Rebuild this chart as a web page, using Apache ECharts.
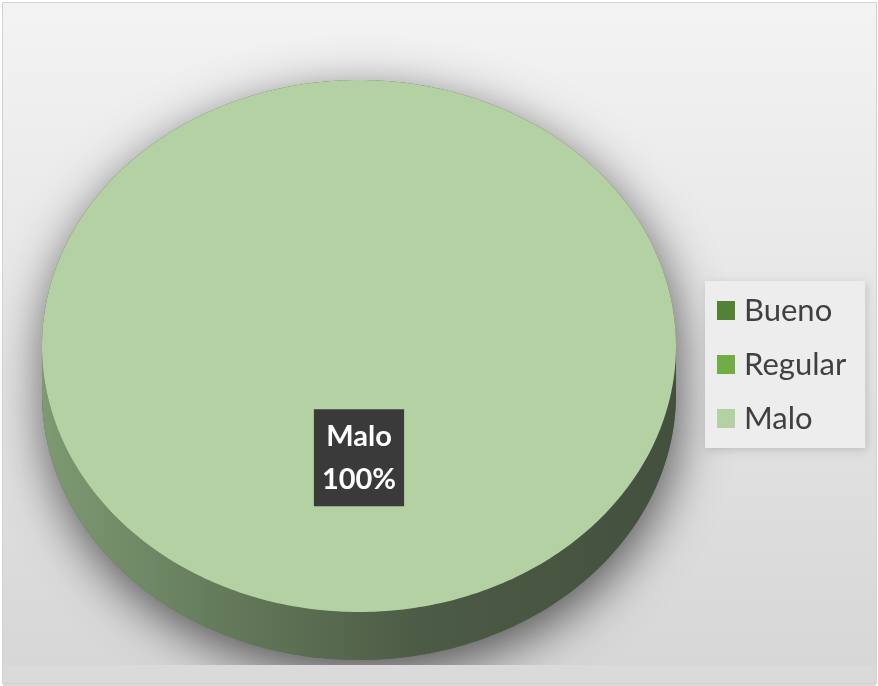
<!DOCTYPE html>
<html>
<head>
<meta charset="utf-8">
<script src="https://cdn.jsdelivr.net/npm/echarts@6/dist/echarts.min.js"></script>
<style>
  html, body { margin: 0; padding: 0; background: #ffffff; }
  #chart { position: absolute; left: 0; top: 0; width: 878px; height: 686px; }
</style>
</head>
<body>
<div id="chart"></div>
<script>
// Rating categories and their shares
const categories = ['Bueno', 'Regular', 'Malo'];
const values = [0, 0, 100];
const sliceColors = ['#548235', '#70ad47', '#b4d1a4'];

// Geometry of the tilted (3D-looking) pie, in pixels
const pie = { cx: 359, cy: 346, rx: 317, ry: 266, depth: 48, labelR: 0.42 };

const total = values.reduce((a, b) => a + b, 0);
const starts = values.map((v, i) => values.slice(0, i).reduce((a, b) => a + b, 0));

// Angle measured clockwise from 12 o'clock
function pt(th, dy) {
  return [pie.cx + pie.rx * Math.sin(th), pie.cy - pie.ry * Math.cos(th) + (dy || 0)];
}
function arcPts(a0, a1, dy) {
  const n = Math.max(2, Math.ceil((a1 - a0) / (Math.PI / 180)));
  const out = [];
  for (let k = 0; k <= n; k++) out.push(pt(a0 + (a1 - a0) * k / n, dy));
  return out;
}
function silhouette(a0, a1, full) {
  const pts = full ? [] : [[pie.cx, pie.cy]];
  const n = Math.max(2, Math.ceil((a1 - a0) / (Math.PI / 180)));
  let prevFront = null;
  for (let k = 0; k <= n; k++) {
    const th = a0 + (a1 - a0) * k / n;
    const front = Math.cos(th) < 0;
    if (prevFront !== null && front !== prevFront) pts.push(pt(th, prevFront ? pie.depth : 0));
    pts.push(pt(th, front ? pie.depth : 0));
    prevFront = front;
  }
  return pts;
}

const sideGradient = {
  type: 'linear', global: true,
  x: pie.cx - pie.rx, y: 0, x2: pie.cx + pie.rx, y2: 0,
  colorStops: [
    { offset: 0, color: '#7d9a72' },
    { offset: 0.3, color: '#63795a' },
    { offset: 0.6, color: '#4c5b45' },
    { offset: 1, color: '#44503e' }
  ]
};

function renderSlice(params, api) {
  const v = api.value(0);
  const s = api.value(1);
  if (!(v > 0)) return { type: 'group', children: [] };
  const TWO_PI = Math.PI * 2;
  const a0 = s / total * TWO_PI;
  const a1 = (s + v) / total * TWO_PI;
  const full = v >= total;
  const color = api.visual('color');

  const children = [];
  // soft drop shadow beneath the whole slice
  children.push({
    type: 'polygon', z2: 0,
    shape: { points: silhouette(a0, a1, full) },
    style: { fill: '#55654d', shadowBlur: 50, shadowColor: 'rgba(0,0,0,0.62)', shadowOffsetX: 3, shadowOffsetY: 14 }
  });
  // visible front wall
  const b0 = Math.max(a0, Math.PI / 2), b1 = Math.min(a1, Math.PI * 1.5);
  if (b1 > b0) {
    const wall = arcPts(b0, b1, 0).concat(arcPts(b0, b1, pie.depth).reverse());
    children.push({ type: 'polygon', z2: 1, shape: { points: wall }, style: { fill: sideGradient } });
  }
  // top face
  const top = full ? arcPts(0, TWO_PI, 0) : [[pie.cx, pie.cy]].concat(arcPts(a0, a1, 0));
  children.push({ type: 'polygon', z2: 2, shape: { points: top }, style: { fill: color } });

  // data label
  const mid = (a0 + a1) / 2;
  const pct = Math.round(v / total * 100) + '%';
  children.push({
    type: 'text', z2: 10,
    x: pie.cx + pie.rx * pie.labelR * Math.sin(mid),
    y: pie.cy - pie.ry * pie.labelR * Math.cos(mid),
    style: {
      text: params.seriesName + '\n' + pct,
      fill: '#ffffff', fontFamily: 'Lato', fontWeight: 'bold', fontSize: 29, lineHeight: 43,
      align: 'center', verticalAlign: 'middle',
      backgroundColor: '#3a3a3a', padding: [6, 8, 5, 8],
      boxShadowBlur: 6, boxShadowColor: 'rgba(0,0,0,0.45)', boxShadowOffsetX: 2, boxShadowOffsetY: 3
    }
  });
  return { type: 'group', children: children };
}

const frame = { x: 2.5, y: 2.5, width: 874, height: 681 };

const chart = echarts.init(document.getElementById('chart'), null, { renderer: 'canvas' });
chart.setOption({
  animation: false,
  graphic: [
    {
      type: 'rect', z: 0, silent: true,
      shape: frame,
      style: {
        fill: { type: 'linear', x: 0, y: 0, x2: 0, y2: 1,
          colorStops: [{ offset: 0, color: '#f3f3f3' }, { offset: 1, color: '#d6d6d6' }] }
      }
    },
    {
      // strip below the plot area, hides the lower end of the drop shadow
      type: 'rect', z: 50, silent: true,
      shape: { x: 3, y: 665, width: 873, height: 21 },
      style: { fill: '#dadada' }
    },
    {
      type: 'rect', z: 60, silent: true,
      shape: frame,
      style: { fill: null, stroke: '#d2d2d2', lineWidth: 1 }
    }
  ],
  legend: {
    orient: 'vertical', left: 705, top: 281,
    data: categories,
    icon: 'rect', itemWidth: 18, itemHeight: 19, itemGap: 23,
    padding: [14, 19, 14, 12],
    backgroundColor: '#ededed',
    shadowBlur: 8, shadowColor: 'rgba(0,0,0,0.15)', shadowOffsetX: 2, shadowOffsetY: 2,
    selectedMode: false,
    textStyle: { fontFamily: 'Lato', fontSize: 31, color: '#404040', lineHeight: 31, padding: [0, 0, 0, 4] }
  },
  series: categories.map((name, i) => ({
    type: 'custom',
    name: name,
    coordinateSystem: 'none',
    itemStyle: { color: sliceColors[i] },
    renderItem: renderSlice,
    data: [[values[i], starts[i]]]
  }))
});
</script>
</body>
</html>
